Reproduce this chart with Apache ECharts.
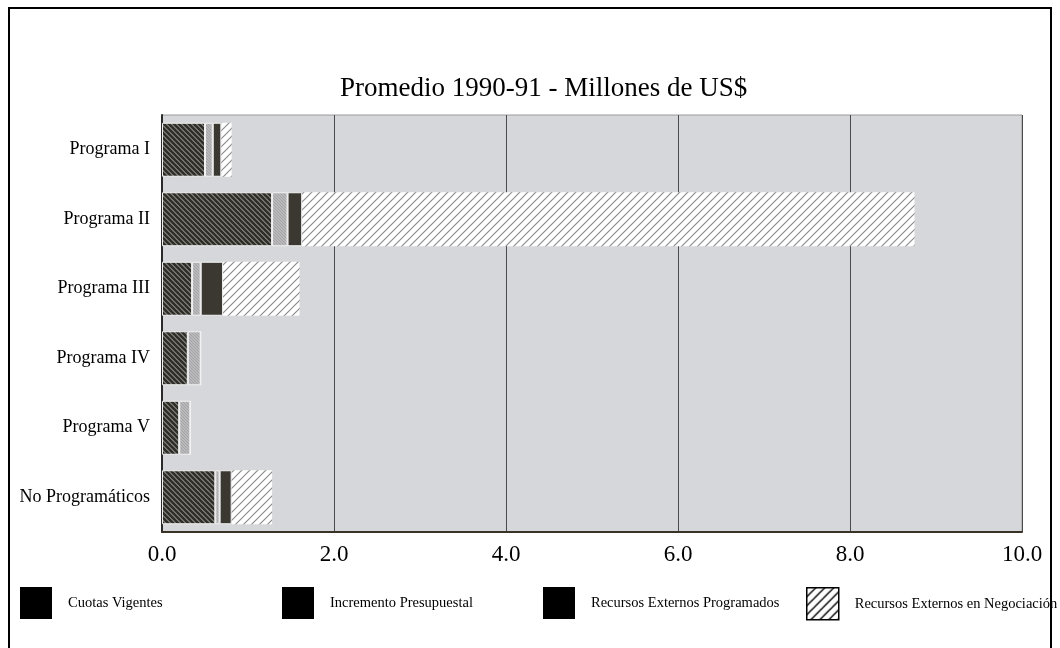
<!DOCTYPE html>
<html>
<head>
<meta charset="utf-8">
<script src="https://cdn.jsdelivr.net/npm/echarts@6/dist/echarts.min.js"></script>
<style>
  html, body { margin: 0; padding: 0; background: #fff; }
  #main { width: 1060px; height: 648px; }
</style>
</head>
<body>
<div id="main"></div>
<script>
const categories = ["Programa I", "Programa II", "Programa III", "Programa IV", "Programa V", "No Programáticos"];
const cuotasVigentes = [0.5, 1.28, 0.35, 0.3, 0.2, 0.62];
const incrementoPresupuestal = [0.09, 0.18, 0.1, 0.15, 0.13, 0.05];
const externosProgramados = [0.1, 0.17, 0.26, 0, 0, 0.14];
const externosNegociacion = [0.12, 7.12, 0.89, 0, 0, 0.47];
const xTicks = [0, 2, 4, 6, 8, 10];

const serifFont = "'Liberation Serif', 'DejaVu Serif', serif";

// small canvas tiles used as hatch fills
function hatch(size, bg, stroke, width, dir) {
  const c = document.createElement("canvas");
  c.width = size;
  c.height = size;
  const ctx = c.getContext("2d");
  ctx.fillStyle = bg;
  ctx.fillRect(0, 0, size, size);
  ctx.strokeStyle = stroke;
  ctx.lineWidth = width;
  ctx.beginPath();
  if (dir === "/") {
    ctx.moveTo(0, size); ctx.lineTo(size, 0);
    ctx.moveTo(-size, size); ctx.lineTo(size, -size);
    ctx.moveTo(0, 2 * size); ctx.lineTo(2 * size, 0);
  } else {
    ctx.moveTo(0, 0); ctx.lineTo(size, size);
    ctx.moveTo(-size, 0); ctx.lineTo(size, 2 * size);
    ctx.moveTo(0, -size); ctx.lineTo(2 * size, size);
  }
  ctx.stroke();
  return { image: c, repeat: "repeat" };
}

const darkHatch = hatch(5, "#8a8a84", "#2e2d28", 2.4, "\\");
const lightFill = hatch(3, "#b9b9bb", "#a4a4a6", 1, "\\");
const darkSolid = "#3b3832";
const whiteHatch = hatch(8, "#ffffff", "#8c8c8c", 1.2, "/");
const legendHatch = hatch(9, "#ffffff", "#000000", 1.4, "/");

const chart = echarts.init(document.getElementById("main"));

const barBase = {
  type: "bar",
  stack: "total",
  barWidth: 54,
  animation: false
};

const legendNames = [
  "Cuotas Vigentes",
  "Incremento Presupuestal",
  "Recursos Externos Programados",
  "Recursos Externos en Negociación"
];
const legendLefts = [20, 282, 543, 806];

const legends = legendNames.map((name, i) => ({
  left: legendLefts[i],
  top: 587,
  itemWidth: 32,
  itemHeight: 32,
  icon: "rect",
  padding: 0,
  selectedMode: false,
  data: [{
    name: name,
    itemStyle: i === 3
      ? { color: legendHatch, borderColor: "#000", borderWidth: 1.5 }
      : { color: "#000", borderWidth: 0 }
  }],
  textStyle: {
    fontFamily: serifFont,
    fontSize: 14.5,
    color: "#000",
    padding: [0, 0, 0, 11]
  }
}));

const option = {
  backgroundColor: "#ffffff",
  title: {
    text: "Promedio 1990-91 - Millones de US$",
    left: 340,
    top: 75,
    padding: 0,
    textStyle: {
      fontFamily: serifFont,
      fontSize: 27,
      fontWeight: "normal",
      color: "#000"
    }
  },
  legend: legends,
  grid: {
    left: 162,
    right: 38,
    top: 115,
    bottom: 116,
    show: true,
    backgroundColor: "#d6d7da",
    borderColor: "#9a9a9a",
    borderWidth: 1
  },
  xAxis: {
    type: "value",
    min: xTicks[0],
    max: xTicks[xTicks.length - 1],
    interval: 2,
    axisLine: { show: true, lineStyle: { color: "#3a3224", width: 2 } },
    axisTick: { show: false },
    splitLine: { show: true, lineStyle: { color: "#4a4a4a", width: 1 } },
    axisLabel: {
      formatter: v => v.toFixed(1),
      fontFamily: serifFont,
      fontSize: 23,
      color: "#000",
      margin: 11
    }
  },
  yAxis: {
    type: "category",
    data: categories,
    inverse: true,
    axisLine: { show: true, lineStyle: { color: "#2a2a2a", width: 2 } },
    axisTick: { show: false },
    splitLine: { show: false },
    axisLabel: {
      fontFamily: serifFont,
      fontSize: 18,
      color: "#000",
      margin: 12
    }
  },
  series: [
    Object.assign({}, barBase, {
      name: legendNames[0],
      data: cuotasVigentes,
      itemStyle: { color: darkHatch, borderColor: "#f2f2f2", borderWidth: 1 }
    }),
    Object.assign({}, barBase, {
      name: legendNames[1],
      data: incrementoPresupuestal,
      itemStyle: { color: lightFill, borderColor: "#f2f2f2", borderWidth: 1 }
    }),
    Object.assign({}, barBase, {
      name: legendNames[2],
      data: externosProgramados,
      itemStyle: { color: darkSolid, borderColor: "#f2f2f2", borderWidth: 1 }
    }),
    Object.assign({}, barBase, {
      name: legendNames[3],
      data: externosNegociacion,
      itemStyle: { color: whiteHatch, borderWidth: 0 }
    })
  ],
  graphic: [
    {
      type: "polyline",
      silent: true,
      shape: { points: [[9, 660], [9, 8], [1051, 8], [1051, 660]] },
      style: { stroke: "#000", lineWidth: 2, fill: null }
    }
  ]
};

chart.setOption(option);
</script>
</body>
</html>
